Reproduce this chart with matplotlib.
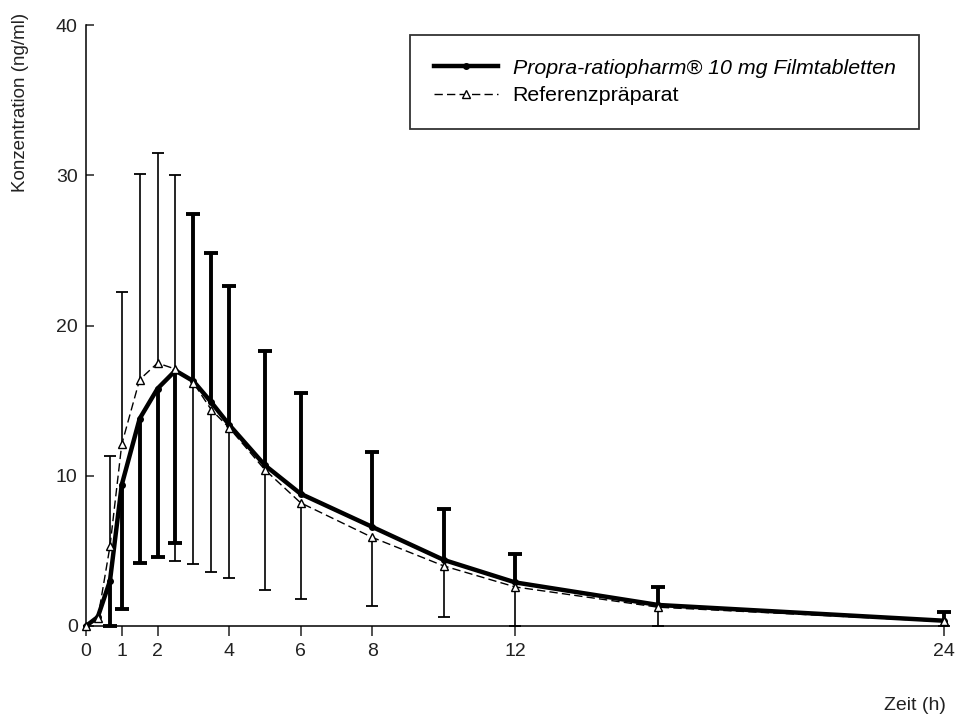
import numpy as np
import matplotlib
matplotlib.use("Agg")
import matplotlib.pyplot as plt

plt.rcParams['font.family'] = ['Liberation Sans', 'DejaVu Sans']

# time points (h)
zeit = [0, 0.33, 0.67, 1, 1.5, 2, 2.5, 3, 3.5, 4, 5, 6, 8, 10, 12, 16, 24]

# Propra-ratiopharm 10 mg (mean, ng/ml)
test_mean = [0, 0.6, 3.0, 9.4, 13.8, 15.8, 17.0, 16.3, 14.9, 13.4, 10.7, 8.8, 6.6, 4.4, 2.9, 1.4, 0.35]
# upper / lower SD bounds (nan = not drawn)
test_upper = [np.nan, np.nan, np.nan, np.nan, np.nan, np.nan, np.nan, 27.4, 24.8, 22.6, 18.3, 15.5, 11.6, 7.8, 4.8, 2.6, 0.9]
test_lower = [np.nan, np.nan, 0.0, 1.1, 4.2, 4.6, 5.5, np.nan, np.nan, np.nan, np.nan, np.nan, np.nan, np.nan, np.nan, np.nan, np.nan]

# Referenzpraeparat
ref_mean = [0, 0.5, 5.3, 12.1, 16.4, 17.5, 17.1, 16.2, 14.4, 13.2, 10.4, 8.2, 5.9, 4.0, 2.6, 1.25, 0.3]
ref_upper = [np.nan, np.nan, 11.3, 22.2, 30.1, 31.5, 30.0, np.nan, np.nan, np.nan, np.nan, np.nan, np.nan, np.nan, np.nan, np.nan, np.nan]
ref_lower = [np.nan, np.nan, np.nan, np.nan, np.nan, np.nan, 4.3, 4.1, 3.6, 3.2, 2.4, 1.8, 1.3, 0.6, 0.0, 0.0, 0.0]

x_ticks = [0, 1, 2, 4, 6, 8, 12, 24]
y_ticks = [0, 10, 20, 30, 40]

fig = plt.figure(figsize=(9.61, 7.18), dpi=100)
ax = fig.add_axes([86 / 961, 1 - 626 / 718, (948 - 86) / 961, (626 - 25) / 718])


def draw_bars(x, mean, bound, lw, cap_size, cap_w):
    x = np.array(x, dtype=float)
    mean = np.array(mean, dtype=float)
    bound = np.array(bound, dtype=float)
    ok = ~np.isnan(bound)
    ax.vlines(x[ok], mean[ok], bound[ok], colors='black', linewidth=lw, zorder=2, clip_on=False)
    ax.plot(x[ok], bound[ok], ls='none', marker='_', markersize=cap_size,
            markeredgewidth=cap_w, color='black', zorder=2, clip_on=False)


draw_bars(zeit, ref_mean, ref_upper, 1.2, 9, 1.3)
draw_bars(zeit, ref_mean, ref_lower, 1.2, 9, 1.3)
draw_bars(zeit, test_mean, test_upper, 2.8, 9.5, 2.8)
draw_bars(zeit, test_mean, test_lower, 2.8, 9.5, 2.8)

ax.plot(zeit, test_mean, color='black', linewidth=3.2, marker='o', markersize=4,
        label='Propra-ratiopharm® 10 mg Filmtabletten', zorder=3, clip_on=False)
ax.plot(zeit, ref_mean, color='black', linewidth=1.0, dashes=(6, 3), marker='^',
        markersize=6, markerfacecolor='white', markeredgecolor='black', markeredgewidth=1.0,
        label='Referenzpräparat', zorder=4, clip_on=False)

ax.set_xlim(0, 24.1)
ax.set_ylim(0, 40)
ax.set_xticks(x_ticks)
ax.set_yticks(y_ticks)
ax.tick_params(axis='x', direction='out', length=7, width=1.1, labelsize=14, colors='#222222', pad=5)
ax.tick_params(axis='y', direction='in', length=6, width=1.1, labelsize=14, colors='#222222', pad=6)
for s in ['top', 'right']:
    ax.spines[s].set_visible(False)
for s in ['left', 'bottom']:
    ax.spines[s].set_linewidth(1.1)

fig.text(21 / 961, 1 - 102 / 718, 'Konzentration (ng/ml)', rotation=90, fontsize=13.5,
         ha='center', va='center', color='#222222')
fig.text(915 / 961, 1 - 705 / 718, 'Zeit (h)', fontsize=14, ha='center', va='center', color='#222222')

leg = ax.legend(loc='upper left', bbox_to_anchor=(410 / 961, 1 - 35 / 718), bbox_transform=fig.transFigure,
                frameon=True, fancybox=False, edgecolor='black', fontsize=15.4, handlelength=3.0,
                borderaxespad=0, borderpad=1.1, labelspacing=0.4, handletextpad=0.7)
leg.get_frame().set_linewidth(1.3)
leg.get_texts()[0].set_style('italic')

fig.savefig('out.png', dpi=100, facecolor='white')
